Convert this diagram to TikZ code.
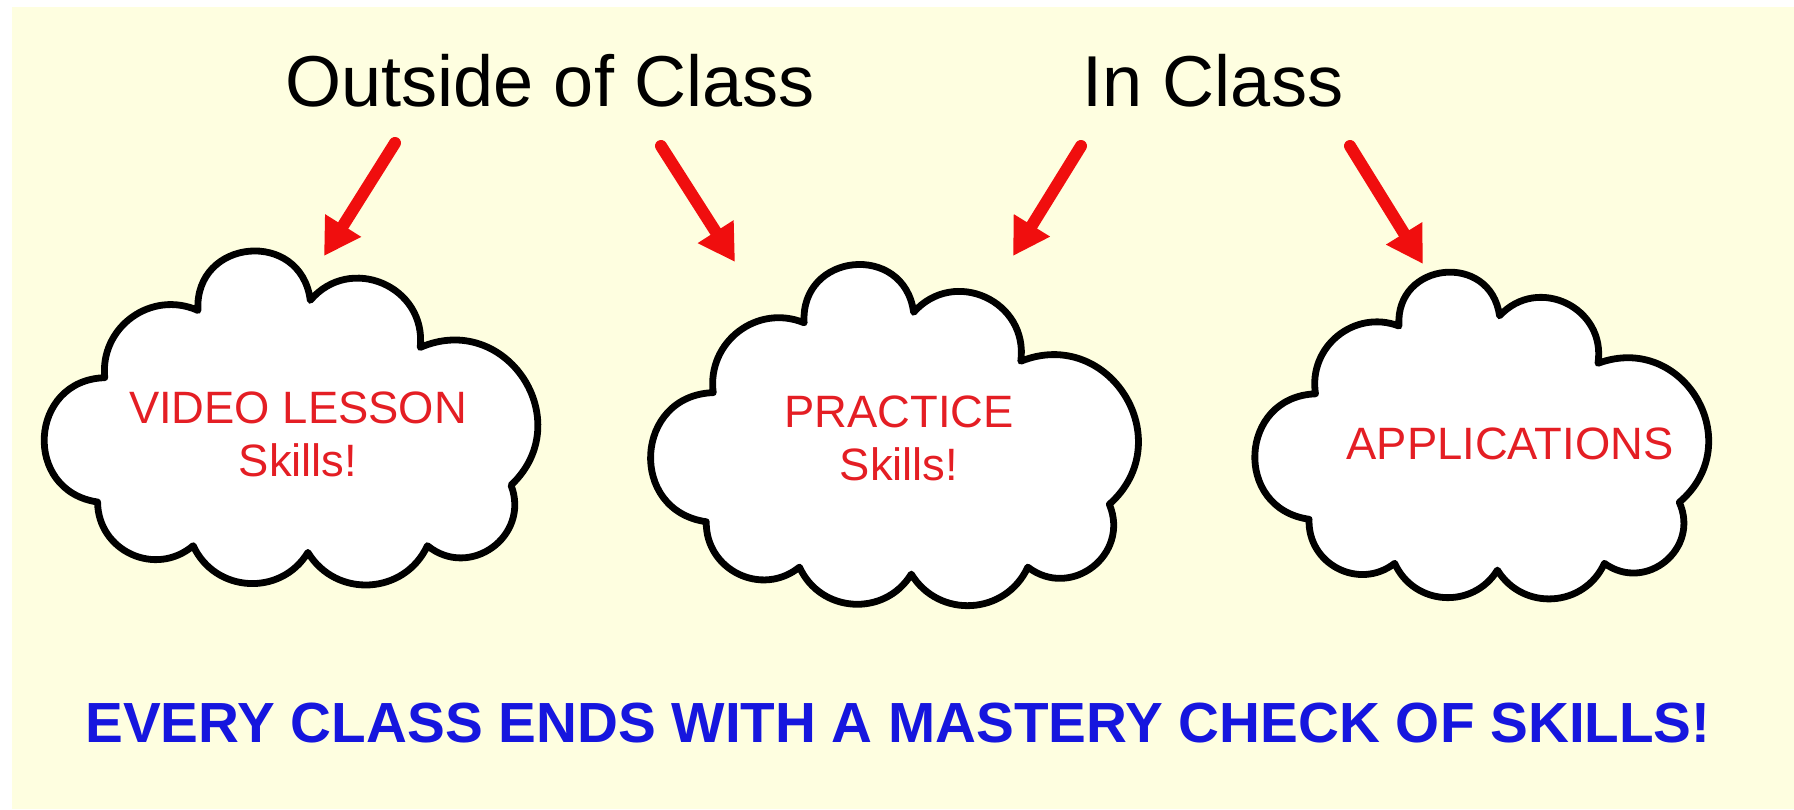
\documentclass[tikz,border=0pt]{standalone}
\usepackage{fontspec}
\setmainfont{Liberation Sans}
\usetikzlibrary{arrows.meta}
\definecolor{bgyellow}{RGB}{254,254,224}
\definecolor{arrowred}{RGB}{240,14,14}
\definecolor{textred}{RGB}{228,30,36}
\definecolor{textblue}{RGB}{22,22,222}
\tikzset{
  bump/.code={\pgfmathsetmacro\bumpL{1.703/(1+cos(#1))}\pgfkeysalso{bend left=#1,looseness=\bumpL}},
  cloudline/.style={draw=black, fill=white, line width=0.068cm, line join=round},
  redarrow/.style={draw=arrowred, line width=0.12cm, line cap=round, -{Triangle[length=0.36cm,width=0.40cm]}},
  titletext/.style={font=\fontsize{20.5}{24}\selectfont, text=black, anchor=base, inner sep=0pt},
  cloudtext/.style={font=\fontsize{12.9}{15.1}\selectfont, text=textred, align=center, inner sep=0pt},
  banner/.style={font=\fontsize{16.1}{19}\selectfont\bfseries, text=textblue, anchor=base, inner sep=0pt}
}
\newcommand\drawcloud[4]{%
\draw[cloudline] ({#1+0.125*#3},{#2+0.38*#4})
  to[bump=60] ({#1+0.32*#3},{#2+0.18*#4})
  to[bump=88] ({#1+0.555*#3},{#2+0.15*#4})
  to[bump=73] ({#1+0.785*#3},{#2+0.29*#4})
  to[bump=80] ({#1+0.975*#3},{#2+0.70*#4})
  to[bump=75] ({#1+0.80*#3},{#2+0.88*#4})
  to[bump=62] ({#1+0.55*#3},{#2+0.90*#4})
  to[bump=62] ({#1+0.31*#3},{#2+0.88*#4})
  to[bump=65] ({#1+0.11*#3},{#2+0.75*#4})
  to[bump=85] ({#1+0.125*#3},{#2+0.38*#4}) -- cycle;}
\begin{document}
\begin{tikzpicture}[x=0.01cm,y=-0.01cm]
\useasboundingbox (0,0) rectangle (1794,809);
\fill[white] (0,0) rectangle (1794,809);
\fill[bgyellow] (12,7) rectangle (1794,809);
% clouds
\drawcloud{45}{250}{478}{336}
\drawcloud{655}{260}{466}{349}
\drawcloud{1262}{265}{428}{339}
% texts
\node[titletext] (outside) at (550,106) {Outside of Class};
\node[titletext] (inclass) at (1213,106) {In Class};
\node[cloudtext] (video) at (298,434) {VIDEO LESSON\\Skills!};
\node[cloudtext] (practice) at (899,438) {PRACTICE\\Skills!};
\node[cloudtext] (apps) at (1510,444) {APPLICATIONS};
\node[banner] (mastery) at (898,742) {EVERY CLASS ENDS WITH A MASTERY CHECK OF SKILLS!};
% arrow ends
\coordinate (t1) at (395,143); \coordinate (h1) at (324,256);
\coordinate (t2) at (661,146); \coordinate (h2) at (735,262);
\coordinate (t3) at (1081,146); \coordinate (h3) at (1013,256);
\coordinate (t4) at (1350,146); \coordinate (h4) at (1423,264);
\draw[redarrow] (t1) -- (h1);
\draw[redarrow] (t2) -- (h2);
\draw[redarrow] (t3) -- (h3);
\draw[redarrow] (t4) -- (h4);
\end{tikzpicture}
\end{document}
